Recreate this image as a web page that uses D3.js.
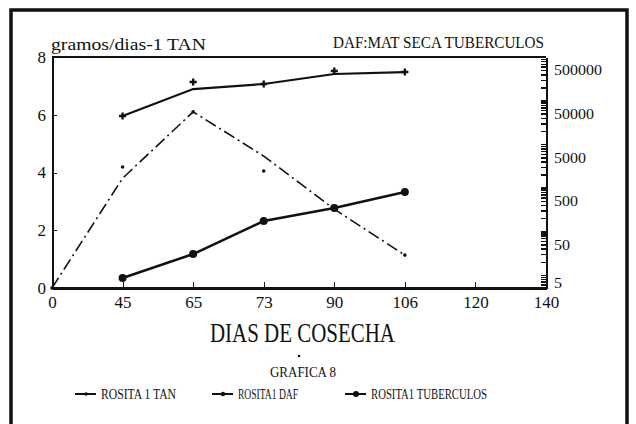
<!DOCTYPE html>
<html>
<head>
<meta charset="utf-8">
<script src="https://d3js.org/d3.v7.min.js"></script>
<style>
  body { margin: 0; background: #fff; }
  text { font-family: "Liberation Serif", serif; fill: #111; }
  .axis path, .axis line { stroke: #111; shape-rendering: crispEdges; }
  .axis text { font-size: 15px; }
</style>
</head>
<body>
<script>
// categories on the x axis (equally spaced)
const days = ["0", "45", "65", "73", "90", "106", "120", "140"];
const sampleDays = ["0", "45", "65", "73", "90", "106"];
const cropDays = ["45", "65", "73", "90", "106"];

// TAN (left axis): observed points and the drawn curve
const tanObs = [0, 4.19, 6.1, 4.05, 2.73, 1.14];
const tanFit = [0, 3.8, 6.1, 4.57, 2.73, 1.14];

// DAF (right log axis)
const dafObs = [44200, 267000, 240000, 477000, 452000];
const dafFit = [44200, 184000, 240000, 407000, 452000];

// MAT SECA TUBERCULOS (right log axis)
const tubValues = [8.5, 30, 172, 343, 798];

const leftTicks = [0, 2, 4, 6, 8];
const legendNames = ["ROSITA 1 TAN", "ROSITA1 DAF", "ROSITA1 TUBERCULOS"];

const W = 636, H = 424;
const plot = { left: 52, right: 546, top: 57, bottom: 288 };

const svg = d3.select("body").append("svg")
  .attr("width", W).attr("height", H);

// outer frame
svg.append("rect")
  .attr("x", 11).attr("y", 10).attr("width", 616).attr("height", 440)
  .attr("fill", "none").attr("stroke", "#111").attr("stroke-width", 3.5);

const x = d3.scalePoint().domain(days).range([plot.left, plot.right]);
const yL = d3.scaleLinear().domain([0, 8]).range([plot.bottom, plot.top]);
const yR = d3.scaleLog().domain([5, 1e6]).range([plot.bottom, plot.top]);

// top border of plot
svg.append("line")
  .attr("x1", plot.left).attr("x2", plot.right)
  .attr("y1", plot.top).attr("y2", plot.top)
  .attr("stroke", "#111").attr("stroke-width", 2);

// x axis
const gx = svg.append("g").attr("class", "axis")
  .attr("transform", `translate(0,${plot.bottom})`)
  .call(d3.axisBottom(x).tickSizeInner(-6).tickSizeOuter(0).tickPadding(5));
gx.select(".domain").attr("stroke-width", 3);
gx.selectAll("text").attr("dy", "0.9em").style("font-size", "17px");

// left axis
const gl = svg.append("g").attr("class", "axis")
  .attr("transform", `translate(${plot.left},0)`)
  .call(d3.axisLeft(yL).tickValues(leftTicks).tickSizeInner(-5).tickSizeOuter(0).tickPadding(6));
gl.select(".domain").attr("stroke-width", 2);
gl.selectAll("text").style("font-size", "17px");

// right axis (log)
const gr = svg.append("g").attr("class", "axis")
  .attr("transform", `translate(${plot.right},0)`)
  .call(d3.axisRight(yR).tickValues(yR.ticks())
    .tickFormat(d => String(d)[0] === "5" ? d : "")
    .tickSizeInner(-5).tickSizeOuter(0).tickPadding(8));
gr.select(".domain").attr("stroke-width", 2);
gr.selectAll("line").attr("stroke-width", 1.5);
gr.selectAll("text").style("font-size", "15px")
  .each(function (d) {
    const t = d3.select(this);
    if (t.text()) t.attr("textLength", t.text().length * 8).attr("lengthAdjust", "spacingAndGlyphs");
    if (d === 5) t.attr("dy", "-0.05em");
  });

// lines
const lineL = d3.line().x((d, i) => x(sampleDays[i])).y(d => yL(d));
const lineR = d3.line().x((d, i) => x(cropDays[i])).y(d => yR(d));

svg.append("path").datum(tanFit)
  .attr("d", lineL).attr("fill", "none").attr("stroke", "#111")
  .attr("stroke-width", 1.6).attr("stroke-dasharray", "12,4,2,4");

svg.append("path").datum(dafFit)
  .attr("d", lineR).attr("fill", "none").attr("stroke", "#111")
  .attr("stroke-width", 2.2);

svg.append("path").datum(tubValues)
  .attr("d", lineR).attr("fill", "none").attr("stroke", "#111")
  .attr("stroke-width", 2.6);

// markers
svg.selectAll(".tanDot").data(tanObs).join("circle")
  .attr("cx", (d, i) => x(sampleDays[i])).attr("cy", d => yL(d))
  .attr("r", 1.8).attr("fill", "#111");

const plus = d3.symbol().type(d3.symbolCross).size(28);
svg.selectAll(".dafMark").data(dafObs).join("path")
  .attr("transform", (d, i) => `translate(${x(cropDays[i])},${yR(d)})`)
  .attr("d", plus).attr("fill", "#111");

svg.selectAll(".tubMark").data(tubValues).join("circle")
  .attr("cx", (d, i) => x(cropDays[i])).attr("cy", d => yR(d))
  .attr("r", 4).attr("fill", "#111");

// titles
function label(txt, px, py, size, len, anchor) {
  return svg.append("text").attr("x", px).attr("y", py)
    .attr("text-anchor", anchor || "start")
    .style("font-size", size + "px")
    .attr("textLength", len).attr("lengthAdjust", "spacingAndGlyphs")
    .text(txt);
}
label("gramos/dias-1 TAN", 51, 50, 16, 155);
label("DAF:MAT SECA TUBERCULOS", 333, 48, 16, 211);
label("DIAS DE COSECHA", 210, 342, 27, 185);
label("GRAFICA 8", 270, 377, 14, 66);

svg.append("circle").attr("cx", 299).attr("cy", 356).attr("r", 1.3).attr("fill", "#111");

// legend
const legendX = [75, 212, 345];
const legendLen = [75, 60, 116];
const lg = svg.selectAll(".leg").data(legendNames).join("g")
  .attr("transform", (d, i) => `translate(${legendX[i]},394)`);
lg.append("line").attr("x1", 0).attr("x2", 21).attr("y1", 0).attr("y2", 0)
  .attr("stroke", "#111").attr("stroke-width", 2);
lg.append("circle").attr("cx", 11).attr("cy", 0).attr("r", (d, i) => [1.8, 2.2, 3][i]).attr("fill", "#111");
lg.append("text").attr("x", 26).attr("y", 5).style("font-size", "14px")
  .attr("textLength", (d, i) => legendLen[i]).attr("lengthAdjust", "spacingAndGlyphs")
  .text(d => d);
</script>
</body>
</html>
